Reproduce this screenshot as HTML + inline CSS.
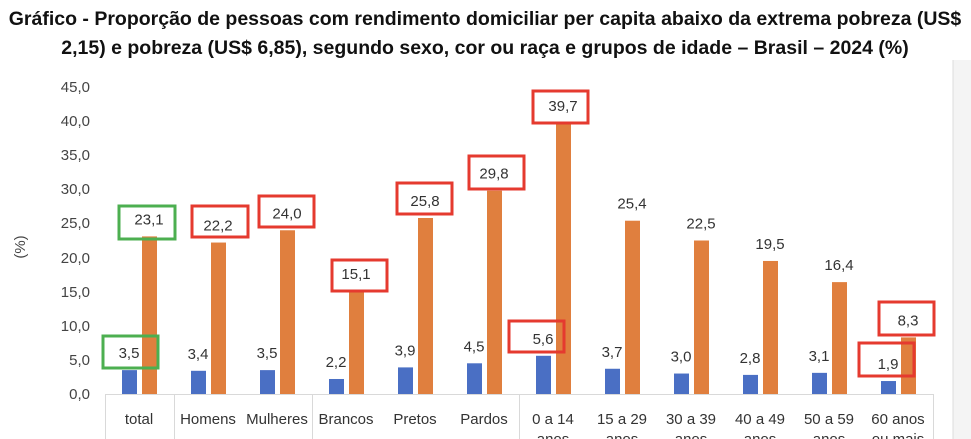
<!DOCTYPE html>
<html><head><meta charset="utf-8"><style>
html,body{margin:0;padding:0;background:#fff;}
svg{display:block;font-family:"Liberation Sans",sans-serif;}
</style></head><body>
<svg width="971" height="439" viewBox="0 0 971 439" xmlns="http://www.w3.org/2000/svg">
<rect x="0" y="0" width="971" height="439" fill="#fff"/>
<rect x="953" y="60" width="18" height="379" fill="#f4f4f4"/>
<line x1="953" y1="60" x2="953" y2="439" stroke="#ddd" stroke-width="1"/>
<text x="485" y="25" text-anchor="middle" font-size="19.5" font-weight="bold" fill="#111">Gráfico - Proporção de pessoas com rendimento domiciliar per capita abaixo da extrema pobreza (US$</text>
<text x="485" y="54" text-anchor="middle" font-size="19.5" font-weight="bold" fill="#111">2,15)  e pobreza (US$ 6,85),  segundo sexo, cor ou raça e grupos de idade – Brasil – 2024 (%)</text>
<g font-size="15" fill="#444" text-anchor="end">
<text x="90" y="399">0,0</text><text x="90" y="365">5,0</text><text x="90" y="331">10,0</text><text x="90" y="297">15,0</text><text x="90" y="263">20,0</text><text x="90" y="228">25,0</text><text x="90" y="194">30,0</text><text x="90" y="160">35,0</text><text x="90" y="126">40,0</text><text x="90" y="92">45,0</text>
</g>
<text transform="translate(25,247) rotate(-90)" text-anchor="middle" font-size="15" fill="#444">(%)</text>
<g stroke="#d9d9d9" stroke-width="1">
<line x1="105" y1="394.5" x2="933" y2="394.5"/>
<line x1="105.5" y1="394" x2="105.5" y2="439"/>
<line x1="174.5" y1="394" x2="174.5" y2="439"/>
<line x1="312.5" y1="394" x2="312.5" y2="439"/>
<line x1="519.5" y1="394" x2="519.5" y2="439"/>
<line x1="933.5" y1="394" x2="933.5" y2="439"/>
</g>
<g id="bars"></g>
<g font-size="15" fill="#333" text-anchor="middle" id="xl">
<text x="139" y="424">total</text><text x="208" y="424">Homens</text><text x="277" y="424">Mulheres</text><text x="346" y="424">Brancos</text><text x="415" y="424">Pretos</text><text x="484" y="424">Pardos</text><text x="553" y="424">0 a 14</text><text x="622" y="424">15 a 29</text><text x="691" y="424">30 a 39</text><text x="760" y="424">40 a 49</text><text x="829" y="424">50 a 59</text><text x="898" y="424">60 anos</text>
<text x="553" y="444">anos</text><text x="622" y="444">anos</text><text x="691" y="444">anos</text><text x="760" y="444">anos</text><text x="829" y="444">anos</text><text x="898" y="444">ou mais</text>
</g>
<script>
(function(){
var b=[3.5,3.4,3.5,2.2,3.9,4.5,5.6,3.7,3.0,2.8,3.1,1.9];
var o=[23.1,22.2,24.0,15.1,25.8,29.8,39.7,25.4,22.5,19.5,16.4,8.3];
var ns="http://www.w3.org/2000/svg",g=document.getElementById("bars");
function r(x,y,w,h,f){var e=document.createElementNS(ns,"rect");e.setAttribute("x",x);e.setAttribute("y",y);e.setAttribute("width",w);e.setAttribute("height",h);e.setAttribute("fill",f);g.appendChild(e);}
function t(x,y,s){var e=document.createElementNS(ns,"text");e.setAttribute("x",x);e.setAttribute("y",y);e.setAttribute("text-anchor","middle");e.setAttribute("font-size","15");e.setAttribute("fill","#333");e.textContent=s;g.appendChild(e);}
var k=307/45;
for(var i=0;i<12;i++){var c=139+69*i;
var hb=b[i]*k,ho=o[i]*k;
r(c-17,394-hb,15,hb,"#4a6fc4");
r(c+3,394-ho,15,ho,"#e07f3e");
t(c-10,394-hb-12,b[i].toFixed(1).replace(".",","));
t(c+10,394-ho-12,o[i].toFixed(1).replace(".",","));
}
})();
</script>
<g fill="none" stroke-width="3">
<rect x="119" y="206" width="56" height="33" stroke="#4caf50"/>
<rect x="103" y="336" width="55" height="32" stroke="#4caf50"/>
<rect x="192" y="206" width="56" height="31" stroke="#e53a2f"/>
<rect x="259" y="196" width="55" height="31" stroke="#e53a2f"/>
<rect x="332" y="260" width="55" height="31" stroke="#e53a2f"/>
<rect x="397" y="183" width="55" height="31" stroke="#e53a2f"/>
<rect x="469" y="156" width="55" height="33" stroke="#e53a2f"/>
<rect x="533" y="91" width="55" height="32" stroke="#e53a2f"/>
<rect x="509" y="321" width="55" height="31" stroke="#e53a2f"/>
<rect x="879" y="302" width="55" height="33" stroke="#e53a2f"/>
<rect x="859" y="343" width="55" height="33" stroke="#e53a2f"/>
</g>
</svg>
</body></html>
